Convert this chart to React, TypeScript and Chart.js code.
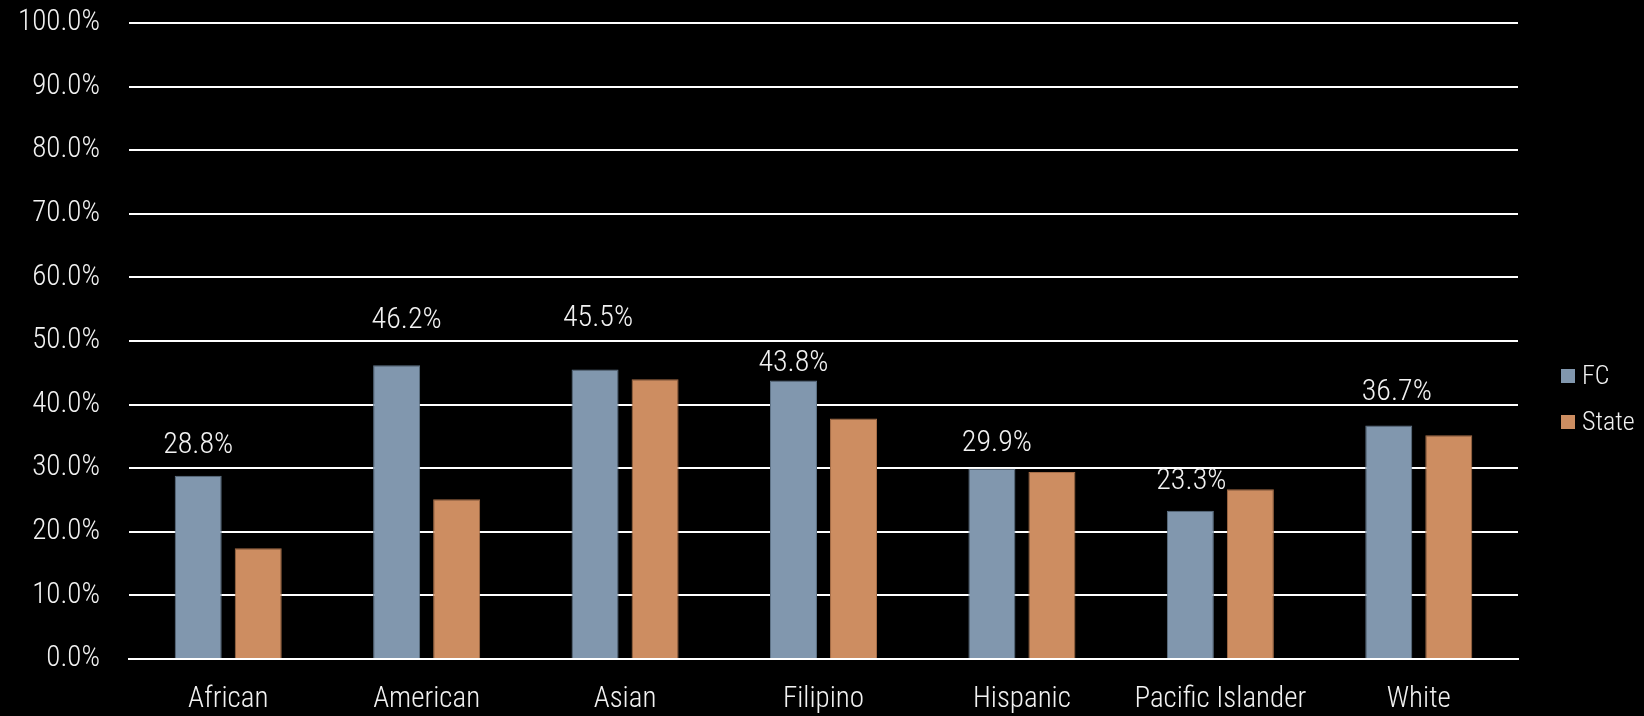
import React, { useEffect, useRef } from "react";
import { Chart, registerables } from "chart.js";

Chart.register(...registerables);

const categories = ["African", "American", "Asian", "Filipino", "Hispanic", "Pacific Islander", "White"];
const fcValues = [28.8, 46.2, 45.5, 43.8, 29.9, 23.3, 36.7];
const stateValues = [17.4, 25.1, 44.0, 37.8, 29.4, 26.7, 35.2];
const seriesNames = ["FC", "State"];
// manual label nudges (px) as placed in the original
const labelDx = [0, 10, 3, 0, 5, 1, 8];
const labelDy = [30, 45, 51, 17, 25, 29, 33];

const FONT = '"Liberation Sans Narrow", "Arial Narrow", "Roboto Condensed", Roboto, sans-serif';
const WEIGHT = 300;
const TEXT = "#f2f2f2";
const FC_COLOR = "#8197ae";
const FC_BORDER = "#5f7387";
const ST_COLOR = "#cd8d61";
const ST_BORDER = "#a56d47";

const labelsPlugin = {
  id: "fcLabels",
  afterDatasetsDraw(chart: any) {
    const ctx = chart.ctx;
    const meta = chart.getDatasetMeta(0);
    ctx.save();
    ctx.font = `${WEIGHT} 30px ${FONT}`;
    ctx.fillStyle = TEXT;
    ctx.textAlign = "center";
    ctx.textBaseline = "middle";
    meta.data.forEach((bar: any, i: number) => {
      ctx.fillText(fcValues[i].toFixed(1) + "%", bar.x + labelDx[i], bar.y - labelDy[i]);
    });
    // legend
    const colors = [FC_COLOR, ST_COLOR];
    ctx.font = `${WEIGHT} 26px ${FONT}`;
    ctx.textAlign = "left";
    seriesNames.forEach((name, i) => {
      const y = 376 + i * 46;
      ctx.fillStyle = colors[i];
      ctx.fillRect(1561, y - 7, 14, 14);
      ctx.fillStyle = TEXT;
      ctx.fillText(name, 1582, y + 1);
    });
    ctx.restore();
  },
};

export default function App() {
  const ref = useRef<HTMLCanvasElement>(null);
  useEffect(() => {
    document.body.style.margin = "0";
    document.body.style.background = "#000";
    const chart = new Chart(ref.current!, {
      type: "bar",
      data: {
        labels: categories,
        datasets: [
          {
            label: seriesNames[0],
            data: fcValues,
            backgroundColor: FC_COLOR,
            borderColor: FC_BORDER,
            borderWidth: 1,
            barPercentage: 0.783,
            categoryPercentage: 0.605,
          },
          {
            label: seriesNames[1],
            data: stateValues,
            backgroundColor: ST_COLOR,
            borderColor: ST_BORDER,
            borderWidth: 1,
            barPercentage: 0.783,
            categoryPercentage: 0.605,
          },
        ],
      },
      options: {
        animation: false,
        responsive: false,
        maintainAspectRatio: false,
        layout: { padding: { top: 23, right: 126, left: 0, bottom: 0 } },
        plugins: { legend: { display: false }, tooltip: { enabled: false } },
        scales: {
          x: {
            grid: { display: false, drawTicks: false },
            border: { display: true, color: "#ffffff", width: 2 },
            ticks: { color: TEXT, font: { family: FONT, size: 29, weight: WEIGHT }, padding: 23, maxRotation: 0, autoSkip: false },
            afterFit(scale: any) {
              scale.height = 57;
              scale.paddingTop = 0;
              scale.paddingBottom = 0;
            },
          },
          y: {
            min: 0,
            max: 100,
            grid: { color: "#ffffff", lineWidth: 2, drawTicks: false },
            border: { display: false },
            ticks: {
              stepSize: 10,
              color: TEXT,
              font: { family: FONT, size: 29, weight: WEIGHT },
              padding: 29,
              callback: (v: any) => Number(v).toFixed(1) + "%",
            },
            afterFit(scale: any) {
              scale.width = 129;
              scale.paddingTop = 0;
              scale.paddingBottom = 0;
            },
          },
        },
      },
      plugins: [labelsPlugin],
    });
    return () => chart.destroy();
  }, []);
  return (
    <div style={{ position: "absolute", left: 0, top: 0, width: 1644, height: 716, background: "#000" }}>
      <canvas ref={ref} width={1644} height={716} style={{ width: 1644, height: 716, display: "block" }} />
    </div>
  );
}
